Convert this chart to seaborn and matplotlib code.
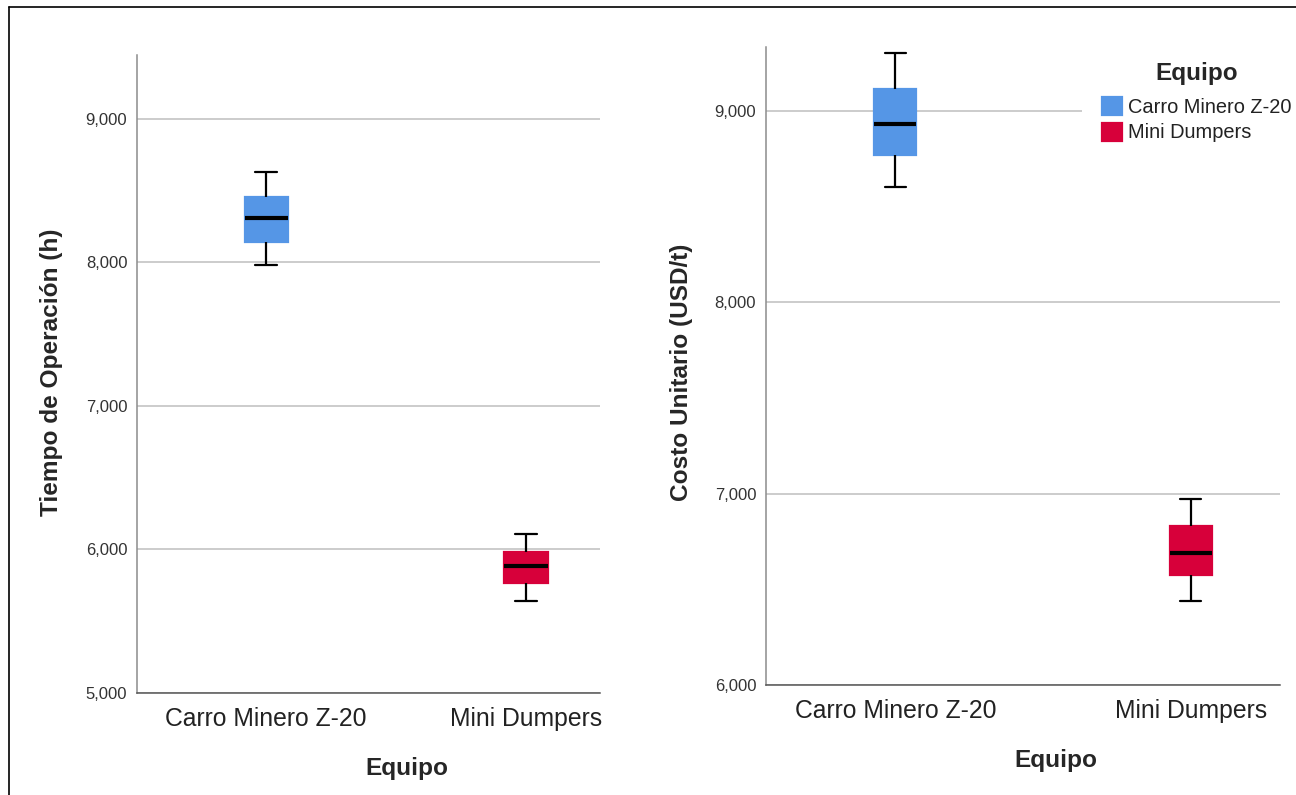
import pandas as pd
import matplotlib.pyplot as plt
import seaborn as sns
from matplotlib.ticker import FuncFormatter
from matplotlib.lines import Line2D

# categories and colours
equipos = ['Carro Minero Z-20', 'Mini Dumpers']
colores = ['#5596E6', '#D7003A']

# five-number summaries (min, Q1, median, Q3, max)
tiempo_carro = [7981, 8139, 8311, 8453, 8629]
tiempo_mini = [5641, 5766, 5882, 5982, 6109]
costo_carro = [8600, 8772, 8929, 9112, 9303]
costo_mini = [6441, 6573, 6690, 6829, 6972]

ticks_tiempo = [5000, 6000, 7000, 8000, 9000]
ticks_costo = [6000, 7000, 8000, 9000]


def build_df(vals_a, vals_b, col):
    return pd.DataFrame({
        'Equipo': [equipos[0]] * len(vals_a) + [equipos[1]] * len(vals_b),
        col: vals_a + vals_b,
    })


df_tiempo = build_df(tiempo_carro, tiempo_mini, 'Tiempo')
df_costo = build_df(costo_carro, costo_mini, 'Costo')

sns.set_style('white')
plt.rcParams['font.family'] = ['Liberation Sans', 'DejaVu Sans']

fig = plt.figure(figsize=(12.96, 7.95), dpi=100)
ax1 = fig.add_axes([0.1057, 0.1283, 0.3573, 0.8025])
ax2 = fig.add_axes([0.5910, 0.1384, 0.3966, 0.8025])

comma = FuncFormatter(lambda v, p: f'{v:,.0f}')


def draw_panel(ax, df, col, width, legend):
    sns.boxplot(data=df, x='Equipo', y=col, hue='Equipo', order=equipos,
                hue_order=equipos, palette=colores, saturation=1, width=width,
                linewidth=1.6, linecolor='black',
                medianprops=dict(linewidth=3.0), legend=legend, ax=ax)
    for p in ax.patches:
        p.set_edgecolor(p.get_facecolor())
    ax.set_axisbelow(True)
    ax.yaxis.grid(True, color='#c8c8c8', linewidth=1.3)
    ax.xaxis.grid(False)
    for s in ['top', 'right']:
        ax.spines[s].set_visible(False)
    ax.spines['left'].set_color('#8c8c8c')
    ax.spines['bottom'].set_color('#555555')
    ax.spines['left'].set_linewidth(1.1)
    ax.spines['bottom'].set_linewidth(1.1)
    ax.yaxis.set_major_formatter(comma)
    ax.tick_params(axis='y', length=0, pad=7, labelsize=12, labelcolor='#333333')
    ax.tick_params(axis='x', length=0, pad=10, labelsize=17.8, labelcolor='#222222')
    ax.set_xlabel('Equipo', fontsize=17.6, fontweight='bold')


draw_panel(ax1, df_tiempo, 'Tiempo', 0.166, False)
ax1.set_xlim(-0.497, 1.285)
ax1.set_ylim(5000, 9445)
ax1.set_yticks(ticks_tiempo)
ax1.set_ylabel('Tiempo de Operación (h)', fontsize=17.6, fontweight='bold')
ax1.xaxis.set_label_coords(0.583, -0.100)
ax1.yaxis.set_label_coords(-0.160, 0.503)

draw_panel(ax2, df_costo, 'Costo', 0.142, True)
ax2.set_xlim(-0.438, 1.301)
ax2.set_ylim(6000, 9334)
ax2.set_yticks(ticks_costo)
ax2.set_ylabel('Costo Unitario (USD/t)', fontsize=17.6, fontweight='bold')
ax2.xaxis.set_label_coords(0.565, -0.100)
ax2.yaxis.set_label_coords(-0.142, 0.49)

old = ax2.get_legend()
handles = old.legend_handles
labels = [t.get_text() for t in old.get_texts()]
old.remove()
leg = ax2.legend(handles, labels, title='Equipo', loc='upper left',
                 bbox_to_anchor=(0.614, 1.008), borderaxespad=0, borderpad=1.0,
                 fontsize=14.4, title_fontproperties={'weight': 'bold', 'size': 17.5},
                 handlelength=1.0, handleheight=1.0, handletextpad=0.3,
                 labelspacing=0.3, frameon=True, facecolor='white',
                 edgecolor='none', framealpha=1, fancybox=False)
for h in leg.legend_handles:
    h.set_edgecolor(h.get_facecolor())
for t in leg.get_texts():
    t.set_color('#222222')
# more room between the legend title and its entries
leg._legend_box.sep = 8.6

# frame lines at the top and left edge of the picture
fig.add_artist(Line2D([9 / 1296, 9 / 1296], [0, 1 - 7 / 795], transform=fig.transFigure,
                      color='black', linewidth=1.2))
fig.add_artist(Line2D([9 / 1296, 1], [1 - 7 / 795, 1 - 7 / 795], transform=fig.transFigure,
                      color='black', linewidth=1.2))

fig.savefig('out.png', dpi=100)
